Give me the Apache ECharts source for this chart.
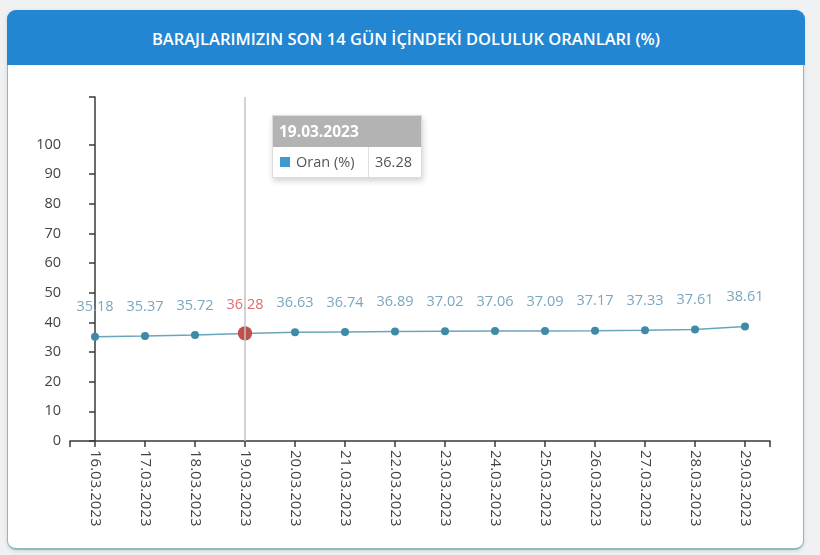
<!DOCTYPE html>
<html>
<head>
<meta charset="utf-8">
<script src="https://cdn.jsdelivr.net/npm/echarts@6/dist/echarts.min.js"></script>
<style>
  html, body { margin: 0; padding: 0; background: #eff1f2; }
  #wrap { position: relative; width: 820px; height: 555px; overflow: hidden; }
  .card {
    position: absolute; left: 7px; top: 10px; width: 795px; height: 537px;
    background: #fff; border: 1.5px solid #8db9c0; border-bottom-width: 2.5px; border-radius: 9px;
    box-shadow: 0 1px 4px rgba(0,0,0,0.12);
  }
  .head {
    position: absolute; left: 7px; top: 10px; width: 798px; height: 55px;
    background: #2386d3; border-radius: 9px 9px 0 0;
    color: #fff; font-family: "Open Sans", sans-serif; font-weight: 600;
    font-size: 16.5px; line-height: 57px; text-align: center; letter-spacing: 0;
  }
  #chart { position: absolute; left: 0; top: 0; width: 820px; height: 555px; }
</style>
</head>
<body>
<div id="wrap">
  <div class="card"></div>
  <div class="head">BARAJLARIMIZIN SON 14 GÜN İÇİNDEKİ DOLULUK ORANLARI (%)</div>
  <div id="chart"></div>
</div>
<script>
// tarih ve doluluk oranlari
const dates = ['16.03.2023', '17.03.2023', '18.03.2023', '19.03.2023', '20.03.2023',
  '21.03.2023', '22.03.2023', '23.03.2023', '24.03.2023', '25.03.2023',
  '26.03.2023', '27.03.2023', '28.03.2023', '29.03.2023'];
const oran = [35.18, 35.37, 35.72, 36.28, 36.63, 36.74, 36.89, 37.02, 37.06, 37.09,
  37.17, 37.33, 37.61, 38.61];
const yLabels = [0, 10, 20, 30, 40, 50, 60, 70, 80, 90, 100];
const yTop = 116;
const seriesName = 'Oran (%)';
const activeIndex = 3;

const chart = echarts.init(document.getElementById('chart'));

// x ekseni: kategoriler orta noktada, uclarda dis tick
const xTicks = [-0.5].concat(dates.map((d, i) => i), [dates.length - 0.5]);
const xLabels = dates.map((d, i) => i);

const data = oran.map(function (v, i) {
  if (i === activeIndex) {
    return {
      value: [i, v],
      symbolSize: 13,
      itemStyle: { color: '#c0504d' },
      label: { color: '#d9706f', distance: 14 }
    };
  }
  return [i, v];
});

const option = {
  animation: false,
  textStyle: { fontFamily: '"Open Sans", sans-serif' },
  grid: { left: 70, right: 50, top: 97, bottom: 114 },
  tooltip: {
    trigger: 'axis',
    alwaysShowContent: true,
    transitionDuration: 0,
    position: [272, 115],
    padding: 0,
    borderWidth: 1,
    borderColor: '#dcdcdc',
    borderRadius: 0,
    backgroundColor: '#fff',
    extraCssText: 'box-shadow: 1px 3px 6px rgba(0,0,0,0.18);',
    axisPointer: {
      type: 'line',
      lineStyle: { color: '#c4c4c4', width: 1.5, type: 'solid' },
      label: { show: false }
    },
    formatter: function (params) {
      const p = params[0];
      const idx = p.dataIndex;
      return '<div style="font-family:Open Sans,sans-serif;width:148px;">' +
        '<div style="background:#b3b3b3;color:#fff;font-weight:700;font-size:15.5px;height:31px;line-height:31px;padding-left:6px;">' + dates[idx] + '</div>' +
        '<div style="display:flex;height:30px;line-height:30px;font-size:14.5px;color:#555;">' +
        '<div style="width:96px;border-right:1px solid #e0e0e0;padding-left:7px;box-sizing:border-box;white-space:nowrap;">' +
        '<span style="display:inline-block;width:10px;height:10px;background:#3d9ad0;margin-right:6px;"></span>' + seriesName + '</div>' +
        '<div style="padding-left:6px;">' + oran[idx].toFixed(2) + '</div></div></div>';
    }
  },
  xAxis: {
    type: 'value',
    min: -0.5,
    max: dates.length - 0.5,
    splitLine: { show: false },
    axisLine: { show: true, lineStyle: { color: '#3a3a3a', width: 1.5 } },
    axisTick: { show: true, length: 6, customValues: xTicks, lineStyle: { color: '#3a3a3a', width: 1.5 } },
    axisLabel: {
      customValues: xLabels,
      formatter: function (v) { return dates[Math.round(v)]; },
      rotate: -90,
      color: '#444',
      fontSize: 15,
      margin: 9
    }
  },
  yAxis: {
    type: 'value',
    min: 0,
    max: yTop,
    splitLine: { show: false },
    axisLine: { show: true, lineStyle: { color: '#3a3a3a', width: 1.5 } },
    axisTick: { show: true, length: 6, customValues: yLabels.concat([yTop]), lineStyle: { color: '#3a3a3a', width: 1.5 } },
    axisLabel: {
      customValues: yLabels,
      color: '#444',
      fontSize: 14.5,
      margin: 9
    }
  },
  series: [{
    name: seriesName,
    type: 'line',
    data: data,
    symbol: 'circle',
    symbolSize: 8,
    itemStyle: { color: '#3f8aa6' },
    lineStyle: { color: '#6aa5bb', width: 1.5 },
    label: {
      show: true,
      position: 'top',
      distance: 18,
      color: '#7ba6c0',
      fontSize: 14.5,
      formatter: function (p) { return oran[p.dataIndex].toFixed(2); }
    },
    emphasis: { disabled: true }
  }]
};

chart.setOption(option);
chart.dispatchAction({ type: 'showTip', seriesIndex: 0, dataIndex: activeIndex });
</script>
</body>
</html>
